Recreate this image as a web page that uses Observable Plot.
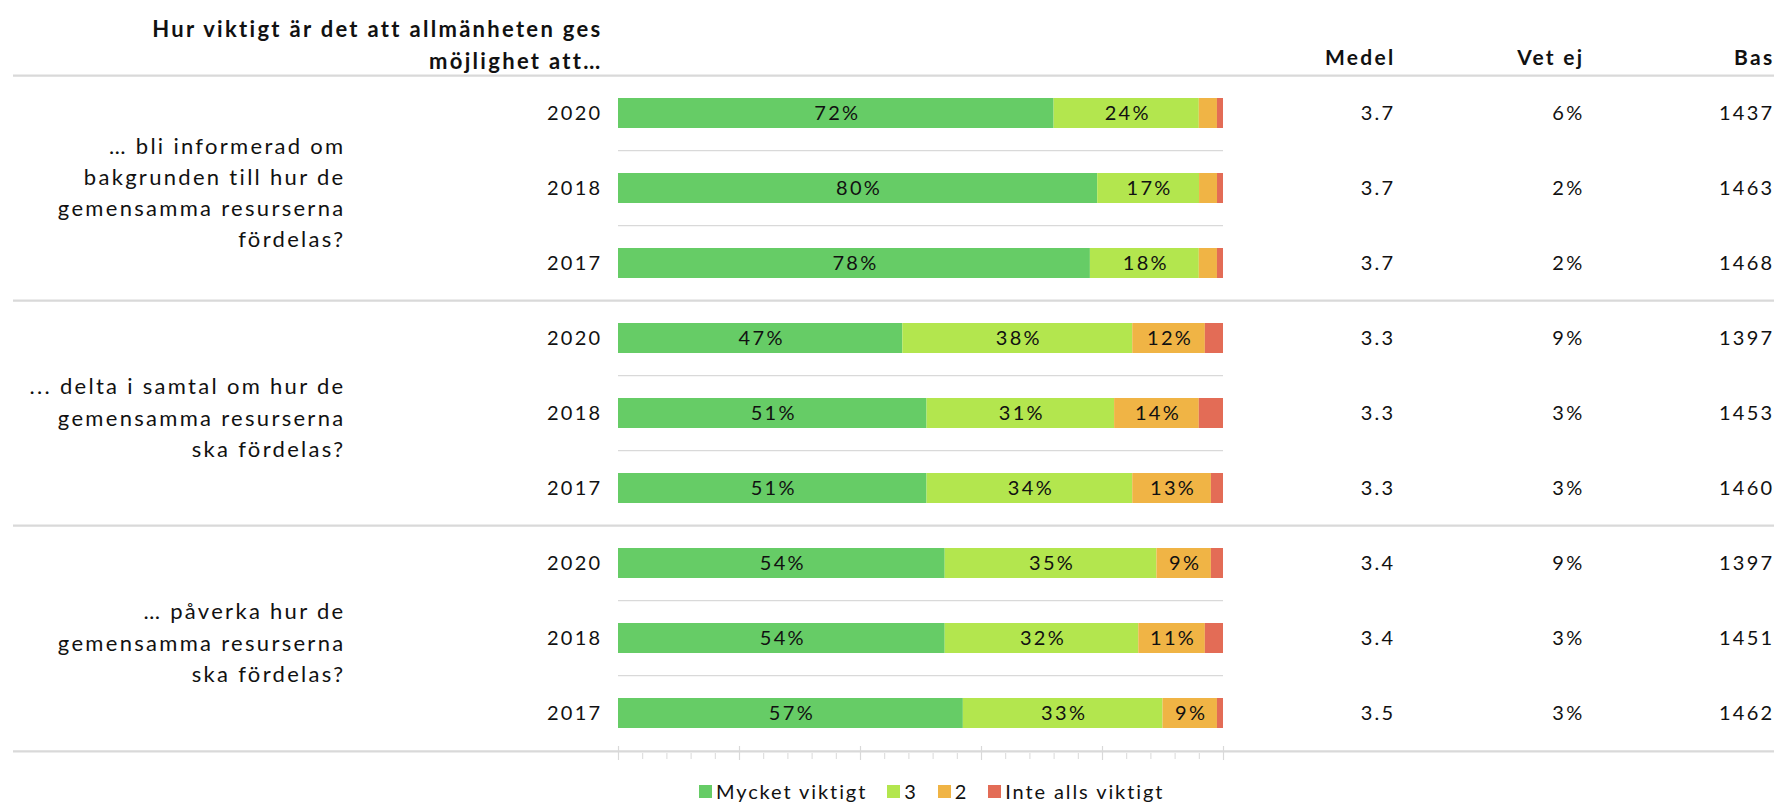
<!DOCTYPE html>
<html>
<head>
<meta charset="utf-8">
<script src="https://cdn.jsdelivr.net/npm/d3@7"></script>
<script src="https://cdn.jsdelivr.net/npm/@observablehq/plot@0.6"></script>
<style>
  html, body { margin: 0; padding: 0; background: #fff; }
  #wrap { position: relative; width: 1774px; height: 802px; overflow: hidden; font-family: Lato, sans-serif; }
  #chart svg { display: block; }
  #legend { position: absolute; left: 699px; top: 779px; }
  #legend .lg-swatches { font-family: Lato, sans-serif; font-size: 20px; letter-spacing: 1.9px; color: #111; min-height: 0 !important; margin: 0 !important; }
  #legend .lg-swatch { margin-right: 20px !important; }
  #legend .lg-swatch > svg { margin-right: 4px !important; }
</style>
</head>
<body>
<div id="wrap">
  <div id="chart"></div>
  <div id="legend"></div>
</div>
<script>
// ---- data ----
const titleText = "Hur viktigt är det att allmänheten ges\nmöjlighet att…";
const questions = [
  "… bli informerad om\nbakgrunden till hur de\ngemensamma resurserna\nfördelas?",
  "... delta i samtal om hur de\ngemensamma resurserna\nska fördelas?",
  "… påverka hur de\ngemensamma resurserna\nska fördelas?"
];
const years = ["2020", "2018", "2017"];
const categories = ["Mycket viktigt", "3", "2", "Inte alls viktigt"];
const colors = ["#66cc66", "#b3e64e", "#f0b445", "#e36c56"];

// one entry per row: question 1 (2020, 2018, 2017), question 2 (...), question 3 (...)
const mycketViktigt = [72, 80, 78, 47, 51, 51, 54, 54, 57];
const tre           = [24, 17, 18, 38, 31, 34, 35, 32, 33];
const tva           = [ 3,  3,  3, 12, 14, 13,  9, 11,  9];
const inteAlls      = [ 1,  1,  1,  3,  4,  2,  2,  3,  1];
const medel = [3.7, 3.7, 3.7, 3.3, 3.3, 3.3, 3.4, 3.4, 3.5];
const vetEj = [6, 2, 2, 9, 3, 3, 9, 3, 3];
const bas   = [1437, 1463, 1468, 1397, 1453, 1460, 1397, 1451, 1462];
const columnHeaders = ["Medel", "Vet ej", "Bas"];

// ---- build tables ----
const series = [mycketViktigt, tre, tva, inteAlls];
const rows = [];
questions.forEach((q, gi) => years.forEach((yr, yi) => {
  const i = gi * years.length + yi;
  rows.push({key: `${gi}-${yr}`, group: gi, pos: yi, year: yr, i,
             medel: medel[i], vetEj: vetEj[i], bas: bas[i]});
}));
const long = [];
rows.forEach(r => categories.forEach((c, ci) => long.push({key: r.key, cat: c, value: series[ci][r.i]})));
const groupLabels = questions.map((q, gi) => ({text: q, key: `${gi}-${years[1]}`}));

// ---- layout ----
const W = 1774, H = 772;
const yTop = 72, yBottom = 753.5;
const step = (yBottom - yTop) / rows.length;
const ink = "#111";
const grid = "#d9d9d9";
const colDx = [-379, -190, 0]; // Medel, Vet ej, Bas (from the right edge)

const major = d3.range(0, 1.0001, 0.2);
const minor = d3.range(0, 1.0001, 0.04).filter(v => !major.some(m => Math.abs(m - v) < 1e-6));

const chart = Plot.plot({
  width: W, height: H,
  marginLeft: 13, marginRight: 0, marginTop: 0, marginBottom: 0,
  style: {fontFamily: "Lato, sans-serif", fontSize: "20px", color: ink, letterSpacing: "2.3px", background: "#fff"},
  x: {domain: [0, 1], range: [618, 1223], axis: null},
  y: {domain: rows.map(r => r.key), range: [yTop, yBottom], paddingInner: 0.6, paddingOuter: 0.3, axis: null},
  color: {domain: categories, range: colors},
  marks: [
    // thin separators between years (bar width only)
    Plot.ruleY(rows.filter(r => r.pos > 0), {y: "key", x1: 0, x2: 1, dy: -step / 2, stroke: grid, strokeWidth: 1.2}),
    // group separators (full width)
    Plot.ruleY(rows.filter(r => r.pos === 0), {y: "key", dy: -step / 2, stroke: grid, strokeWidth: 2.2}),
    Plot.ruleY(rows.slice(-1), {y: "key", dy: step / 2, stroke: grid, strokeWidth: 2.2}),
    // axis ticks
    Plot.ruleX(major, {x: d => d, insetTop: 746, insetBottom: H - 760, stroke: grid, strokeWidth: 1.2}),
    Plot.ruleX(minor, {x: d => d, insetTop: 753, insetBottom: H - 759, stroke: grid, strokeWidth: 1}),
    // bars
    Plot.barX(long, Plot.stackX({x: "value", y: "key", fill: "cat", offset: "normalize"})),
    Plot.text(long, Plot.stackX({x: "value", y: "key", z: "cat", offset: "normalize",
      text: d => d.value >= 5 ? `${d.value}%` : "", fill: ink, fontSize: 20, letterSpacing: "1.8px", dx: 1})),
    // year labels
    Plot.text(rows, {x: () => 0, y: "key", text: "year", textAnchor: "end", dx: -16, fill: ink, letterSpacing: "2.3px"}),
    // question labels
    Plot.text(groupLabels, {x: () => 0, y: "key", text: "text", textAnchor: "end", dx: -273, dy: 2,
      lineHeight: 1.42, fontSize: 22, letterSpacing: "2.85px", fill: ink}),
    // value columns
    Plot.text(rows, {y: "key", frameAnchor: "right", text: d => d.medel.toFixed(1), textAnchor: "end", dx: colDx[0], fill: ink}),
    Plot.text(rows, {y: "key", frameAnchor: "right", text: d => `${d.vetEj}%`, textAnchor: "end", dx: colDx[1], fill: ink}),
    Plot.text(rows, {y: "key", frameAnchor: "right", text: d => `${d.bas}`, textAnchor: "end", dx: colDx[2], fill: ink}),
    // column headers
    ...columnHeaders.map((h, k) => Plot.text([h], {frameAnchor: "top-right", text: d => d, textAnchor: "end",
      lineAnchor: "middle", dx: colDx[k], dy: 58, fontWeight: "bold", fontSize: 21, letterSpacing: "3px", fill: ink})),
    // title
    Plot.text([titleText], {x: () => 0, frameAnchor: "top", text: d => d, textAnchor: "end", lineAnchor: "middle",
      dx: -16, dy: 42.5, lineHeight: 1.42, fontWeight: "bold", fontSize: 22, letterSpacing: "3.4px", fill: ink})
  ]
});
document.getElementById("chart").appendChild(chart);

const legend = Plot.legend({
  color: {domain: categories, range: colors},
  legend: "swatches", swatchSize: 13, className: "lg"
});
document.getElementById("legend").appendChild(legend);
</script>
</body>
</html>
